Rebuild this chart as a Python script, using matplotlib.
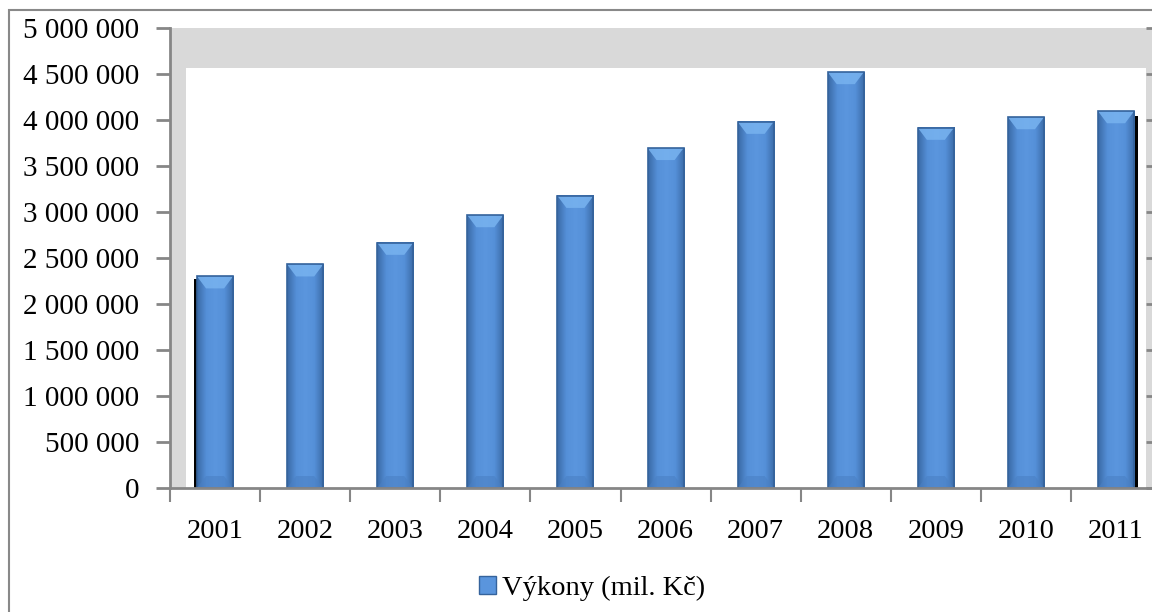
import numpy as np
import matplotlib.pyplot as plt
from matplotlib.patches import Rectangle, Polygon, Patch
from matplotlib.ticker import FuncFormatter, FixedLocator
from matplotlib.colors import LinearSegmentedColormap

plt.rcParams['font.family'] = ['Liberation Serif', 'DejaVu Serif']

# data
years = ['2001', '2002', '2003', '2004', '2005', '2006',
         '2007', '2008', '2009', '2010', '2011']
vykony = [2300000, 2430000, 2665000, 2965000, 3175000, 3695000,
          3980000, 4520000, 3915000, 4030000, 4095000]
series_label = 'Výkony (mil. Kč)'

W, H = 1152, 612
fig = plt.figure(figsize=(W / 100, H / 100), dpi=100)

# axes placed in pixels: y axis at x=170, zero line at y=488, 5M at y=28
step = 90.1
n = len(years)
ax = fig.add_axes([170 / W, (H - 488) / H, n * step / W, 460 / H])
ax.set_xlim(-0.5, n - 0.5)
ax.set_ylim(0, 5000000)
ax.set_facecolor('#D9D9D9')

# white inner area (3D wall effect)
px_x = 1 / step
px_y = 5000000 / 460
ax.add_patch(Rectangle((-0.5 + 16 * px_x, 0), (976 - 16) * px_x, 4565000,
                       facecolor='white', edgecolor='none', zorder=0.5))

# bars with a bevel-like shading
bw = 0.4
cmap = LinearSegmentedColormap.from_list(
    'bar', ['#3A6AA6', '#5590D8', '#5B96DE', '#5590D8', '#3A6AA6'])
grad = np.linspace(0, 1, 64).reshape(1, -1)
x = np.arange(n)
for i, v in enumerate(vykony):
    x0, x1 = x[i] - bw / 2, x[i] + bw / 2
    ax.imshow(grad, cmap=cmap, extent=[x0, x1, 0, v], aspect='auto',
              zorder=2, interpolation='bilinear')
    bev = 12 * px_y
    inset = 0.1
    ax.add_patch(Polygon([[x0, v], [x1, v], [x1 - inset, v - bev],
                          [x0 + inset, v - bev]],
                         closed=True, facecolor='#76B1EE', edgecolor='none',
                         alpha=0.9, zorder=3))
    ax.add_patch(Polygon([[x0, 0], [x1, 0], [x1 - inset, bev],
                          [x0 + inset, bev]],
                         closed=True, facecolor='#4A80C4', edgecolor='none',
                         alpha=0.6, zorder=3))
    ax.add_patch(Rectangle((x0, 0), bw, v, facecolor='none',
                           edgecolor='#35639C', linewidth=1.2, zorder=4))

# black shadow edges on the outer bars
ax.add_patch(Rectangle((x[0] - bw / 2 - 3 * px_x, 0), 3 * px_x, vykony[0] - 3 * px_y,
                       facecolor='black', edgecolor='none', zorder=1.5))
ax.add_patch(Rectangle((x[-1] + bw / 2, 0), 4 * px_x, vykony[-1] - 5 * px_y,
                       facecolor='black', edgecolor='none', zorder=1.5))

# axes styling
for s in ['top', 'right']:
    ax.spines[s].set_visible(False)
for s in ['left', 'bottom']:
    ax.spines[s].set_color('#868686')
    ax.spines[s].set_linewidth(2)
    ax.spines[s].set_zorder(5)

ax.set_yticks(np.arange(0, 5000001, 500000))
ax.yaxis.set_major_formatter(FuncFormatter(lambda v, p: f'{int(v):,}'.replace(',', ' ')))
ax.tick_params(axis='y', length=10, width=2, color='#868686', labelsize=21, pad=12)

ax.set_xticks(x)
ax.set_xticklabels(years)
ax.xaxis.set_minor_locator(FixedLocator(np.arange(n + 1) - 0.5))
ax.tick_params(axis='x', which='major', length=0, labelsize=20.5, pad=22)
ax.tick_params(axis='x', which='minor', length=10, width=1.5, color='#868686')

# right wall tick marks
ax.hlines(np.arange(0, 5000001, 500000), n - 0.5 - 15 * px_x, n - 0.5,
          colors='#868686', linewidth=2, zorder=1, clip_on=False)

# outer chart frame
fig.add_artist(Rectangle((9 / W, -0.1), 1.2, (H - 10) / H + 0.1,
                         transform=fig.transFigure, facecolor='none',
                         edgecolor='#898989', linewidth=1.5))

handle = Patch(facecolor='#5A95DD', edgecolor='#35639C', label=series_label)
fig.legend(handles=[handle], loc='center', bbox_to_anchor=(592 / W, 24 / H),
           frameon=False, fontsize=20.5, handlelength=0.6, handleheight=0.6,
           handletextpad=0.2)

fig.savefig('out.png', dpi=100)
